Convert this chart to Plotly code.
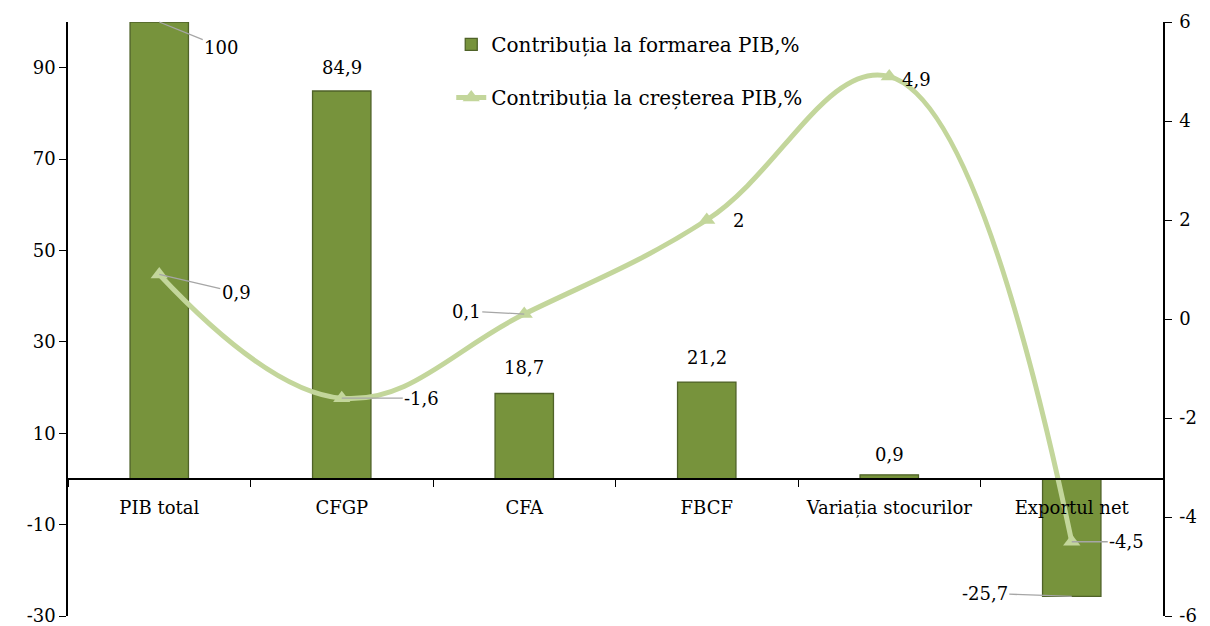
import plotly.graph_objects as go

categories = ["PIB total", "CFGP", "CFA", "FBCF", "Variația stocurilor", "Exportul net"]
formare = [100, 84.9, 18.7, 21.2, 0.9, -25.7]
crestere = [0.9, -1.6, 0.1, 2, 4.9, -4.5]
left_ticks = [-30, -10, 10, 30, 50, 70, 90]
right_ticks = [-6, -4, -2, 0, 2, 4, 6]

def fmt(v):
    return ("%g" % v).replace(".", ",")

FONT = "DejaVu Serif"
BAR = "#77933c"
BAR_EDGE = "#4f6228"
LINE = "#c3d69b"
LEADER = "#a6a6a6"

fig = go.Figure()
fig.add_trace(go.Bar(
    x=categories, y=formare, name="Contribuția la formarea PIB,%",
    marker=dict(color=BAR, line=dict(color=BAR_EDGE, width=1.3)),
    legendgroup="a", yaxis="y",
))
fig.add_trace(go.Scatter(
    x=categories, y=crestere, name="Contribuția la creșterea PIB,%",
    mode="lines+markers", yaxis="y2",
    line=dict(color=LINE, width=5, shape="spline", smoothing=1.15),
    marker=dict(symbol="triangle-up", size=15, color=LINE),
    legendgroup="b",
))

ann = []
bar_label_style = {
    0: dict(showarrow=True, ax=62, ay=25),
    1: dict(showarrow=False, yshift=24),
    2: dict(showarrow=False, yshift=26),
    3: dict(showarrow=False, yshift=25),
    4: dict(showarrow=False, yshift=20),
    5: dict(showarrow=True, ax=-87, ay=-3),
}
for i, (c, v) in enumerate(zip(categories, formare)):
    st = bar_label_style[i]
    ann.append(dict(x=c, y=v, xref="x", yref="y", text=fmt(v),
                    arrowhead=0, arrowwidth=1.3, arrowcolor=LEADER, standoff=0,
                    font=dict(family=FONT, size=18, color="black"), **st))
line_label_style = {
    0: dict(showarrow=True, ax=77, ay=18),
    1: dict(showarrow=True, ax=80, ay=0),
    2: dict(showarrow=True, ax=-58, ay=-3),
    3: dict(showarrow=False, xshift=32),
    4: dict(showarrow=False, xshift=27, yshift=-3),
    5: dict(showarrow=True, ax=55, ay=0),
}
for i, (c, v) in enumerate(zip(categories, crestere)):
    st = line_label_style[i]
    ann.append(dict(x=c, y=v, xref="x", yref="y2", text=fmt(v),
                    arrowhead=0, arrowwidth=1.3, arrowcolor=LEADER, standoff=0,
                    font=dict(family=FONT, size=18, color="black"), **st))

# page body has an 8px default margin, so the figure is sized to fit
fig.update_layout(
    width=1202, height=618,
    margin=dict(l=60, r=47, t=14, b=10, autoexpand=False),
    plot_bgcolor="white", paper_bgcolor="white",
    font=dict(family=FONT, size=18, color="black"),
    bargap=0.68,
    showlegend=True,
    legend=dict(x=0.35, y=0.995, xanchor="left", yanchor="top",
                bgcolor="rgba(0,0,0,0)", tracegroupgap=24,
                font=dict(family=FONT, size=20, color="black")),
    xaxis=dict(
        type="category", anchor="free", position=30 / 130, automargin=False,
        showline=True, linecolor="black", linewidth=1.5, tickangle=0,
        ticks="outside", tickson="boundaries", ticklen=7, tickcolor="black",
        ticklabelstandoff=13, showgrid=False, zeroline=False,
        tickfont=dict(family=FONT, size=18, color="black"),
    ),
    yaxis=dict(
        range=[-30, 100], tickvals=left_ticks,
        ticktext=[str(t) for t in left_ticks], automargin=False,
        ticklabeloverflow="allow",
        showline=True, linecolor="black", linewidth=1.5,
        ticks="outside", ticklen=7, tickcolor="black",
        showgrid=False, zeroline=False,
        tickfont=dict(family=FONT, size=18, color="black"),
    ),
    yaxis2=dict(
        range=[-6, 6], tickvals=right_ticks,
        ticktext=[str(t) for t in right_ticks], automargin=False,
        ticklabeloverflow="allow",
        overlaying="y", side="right",
        showline=True, linecolor="black", linewidth=1.5,
        ticks="outside", ticklen=7, tickcolor="black",
        showgrid=False, zeroline=False, ticklabelstandoff=4,
        tickfont=dict(family=FONT, size=18, color="black"),
    ),
    annotations=ann,
)

fig.write_html("out.html")
